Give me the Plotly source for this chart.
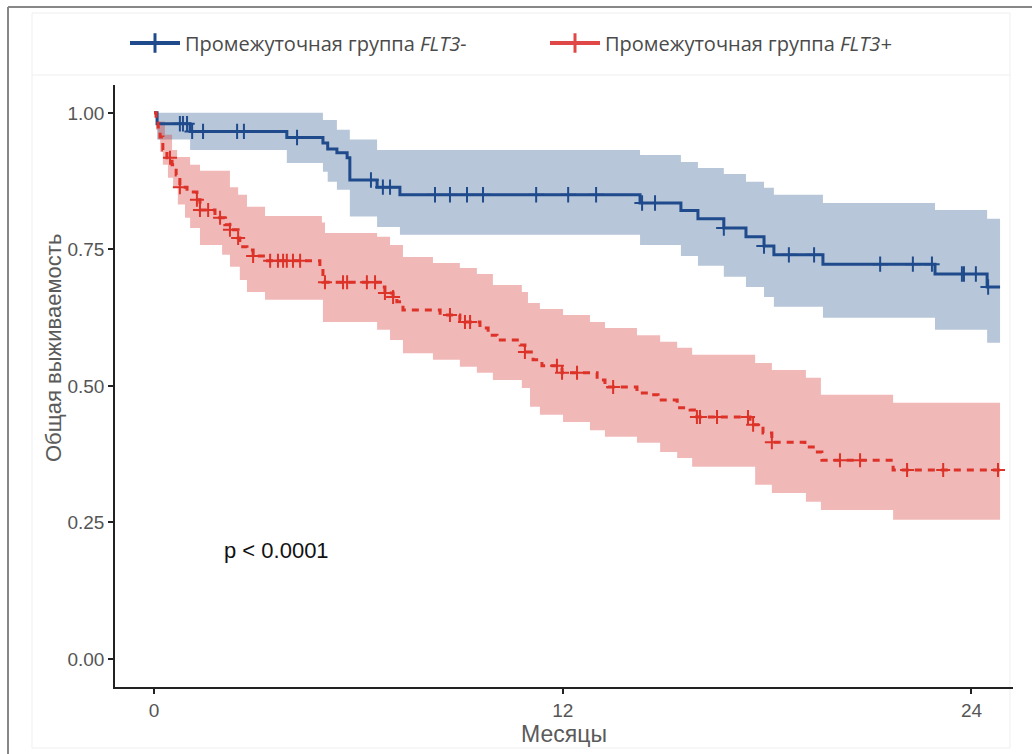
import plotly.graph_objects as go

# ---------------- data (months, survival probability) ----------------
END_TIME = 24.84

blue_name = "Промежуточная группа <i>FLT3-</i>"
red_name = "Промежуточная группа <i>FLT3+</i>"

blue_time = [0, 0.09, 1.06, 3.9, 4.96, 5.1, 5.37, 5.67, 5.75, 6.55, 7.22, 14.27, 15.47,
             15.97, 16.73, 17.38, 17.91, 18.2, 19.64, 22.93, 24.46]
blue_surv = [1.0, 0.980, 0.966, 0.955, 0.945, 0.934, 0.927, 0.918, 0.877, 0.864, 0.850, 0.835,
             0.821, 0.806, 0.789, 0.773, 0.756, 0.740, 0.723, 0.705, 0.681]
blue_censor = [0.76, 0.85, 0.97, 1.12, 1.44, 2.44, 2.64, 4.2, 6.37, 6.72, 6.93, 8.25, 8.69,
               9.19, 9.66, 11.22, 12.16, 12.98, 14.33, 14.71, 16.73, 17.91, 18.64, 19.38,
               21.32, 22.28, 22.84, 23.72, 23.78, 24.13, 24.49]
bu_time = [0, 4.96, 5.37, 5.75, 6.55, 14.27, 15.47, 15.97, 16.73, 17.38, 17.91, 18.2, 19.64,
           22.93, 24.46]
bu_val = [1.0, 0.987, 0.969, 0.951, 0.932, 0.923, 0.910, 0.899, 0.888, 0.874, 0.863, 0.850,
          0.835, 0.822, 0.806]
bl_time = [0, 0.09, 1.06, 3.9, 4.96, 5.1, 5.37, 5.75, 6.55, 7.22, 14.27, 15.47, 15.97, 16.73,
           17.38, 17.91, 18.2, 19.64, 22.93, 24.46]
bl_val = [1.0, 0.951, 0.932, 0.908, 0.892, 0.874, 0.859, 0.810, 0.791, 0.777, 0.758, 0.738,
          0.720, 0.700, 0.681, 0.663, 0.645, 0.625, 0.603, 0.579]

red_time = [0, 0.06, 0.12, 0.18, 0.26, 0.38, 0.53, 0.65, 0.76, 0.97, 1.26, 1.35, 1.79, 2.08,
            2.23, 2.47, 2.52, 2.73, 2.91, 3.26, 4.87, 4.96, 6.69, 6.78, 7.02, 7.13, 7.31, 8.40,
            8.98, 9.13, 9.57, 9.81, 10.07, 10.75, 10.89, 11.13, 11.39, 11.98, 13.01, 13.24,
            13.33, 14.18, 14.56, 14.8, 15.36, 15.74, 15.94, 17.5, 17.88, 18.14, 19.11, 19.41,
            19.61, 21.7]
red_surv = [1.0, 0.987, 0.974, 0.956, 0.932, 0.918, 0.905, 0.886, 0.864, 0.855, 0.841, 0.822,
            0.808, 0.795, 0.786, 0.771, 0.755, 0.749, 0.738, 0.729, 0.718, 0.690, 0.681, 0.670,
            0.663, 0.654, 0.639, 0.630, 0.621, 0.617, 0.606, 0.593, 0.584, 0.575, 0.562, 0.548,
            0.537, 0.524, 0.511, 0.502, 0.498, 0.487, 0.484, 0.474, 0.460, 0.456, 0.443, 0.429,
            0.414, 0.397, 0.388, 0.379, 0.364, 0.346]
red_censor = [0.47, 0.76, 1.26, 1.35, 1.59, 1.94, 2.23, 2.47, 2.91, 3.41, 3.64, 3.79, 3.9, 4.08,
              4.29, 5.02, 5.55, 5.67, 6.25, 6.49, 6.78, 7.02, 8.69, 9.13, 9.28, 10.89, 11.83,
              11.98, 12.42, 13.48, 15.94, 16.03, 16.53, 17.44, 17.59, 18.14, 20.14, 20.73,
              22.11, 23.17, 24.78]
ru_time = [0, 0.12, 0.32, 0.53, 0.68, 1.06, 1.35, 2.23, 2.47, 2.73, 3.26, 4.93, 5.02, 6.55,
           6.93, 7.31, 8.19, 8.98, 9.48, 9.95, 10.8, 10.98, 11.33, 12.01, 12.8, 13.24, 14.18,
           14.86, 15.36, 15.8, 17.65, 18.14, 19.14, 19.58, 21.7]
ru_val = [1.0, 0.984, 0.960, 0.932, 0.919, 0.905, 0.894, 0.864, 0.850, 0.828, 0.811, 0.799,
          0.780, 0.773, 0.758, 0.736, 0.725, 0.716, 0.705, 0.685, 0.672, 0.652, 0.641, 0.630,
          0.617, 0.606, 0.593, 0.581, 0.570, 0.557, 0.542, 0.529, 0.515, 0.484, 0.469]
rl_time = [0, 0.06, 0.12, 0.18, 0.26, 0.41, 0.56, 0.70, 0.91, 1.06, 1.35, 2.0, 2.23, 2.52,
           2.73, 3.26, 4.96, 6.55, 6.93, 7.31, 8.19, 8.98, 9.48, 9.95, 10.8, 11.04, 11.33,
           12.01, 12.8, 13.24, 14.18, 14.86, 15.36, 15.8, 17.65, 18.14, 19.14, 19.58, 21.7]
rl_val = [1.0, 0.969, 0.951, 0.929, 0.905, 0.881, 0.863, 0.832, 0.808, 0.789, 0.758, 0.740,
          0.718, 0.694, 0.672, 0.658, 0.617, 0.603, 0.584, 0.560, 0.548, 0.535, 0.524, 0.511,
          0.496, 0.462, 0.447, 0.434, 0.419, 0.407, 0.396, 0.379, 0.368, 0.352, 0.319, 0.304,
          0.288, 0.273, 0.255]

x_ticks = [0, 12, 24]
y_ticks = [0.0, 0.25, 0.5, 0.75, 1.0]
p_text = "p < 0.0001"
x_title = "Месяцы"
y_title = "Общая выживаемость"

# ---------------- styles ----------------
BLUE = "#1F4A8C"
RED = "#DC3228"
BLUE_FILL = "rgba(49,95,146,0.35)"
RED_FILL = "rgba(214,48,48,0.34)"


def extend(t, v):
    return list(t) + [END_TIME], list(v) + [v[-1]]


def step_at(t, v, x):
    val = v[0]
    for ti, vi in zip(t, v):
        if ti <= x:
            val = vi
    return val


fig = go.Figure()


def add_band(lt, lv, ut, uv, color):
    lt2, lv2 = extend(lt, lv)
    ut2, uv2 = extend(ut, uv)
    fig.add_trace(go.Scatter(x=lt2, y=lv2, mode="lines", line=dict(width=0, shape="hv"),
                             showlegend=False, hoverinfo="skip"))
    fig.add_trace(go.Scatter(x=ut2, y=uv2, mode="lines", line=dict(width=0, shape="hv"),
                             fill="tonexty", fillcolor=color, showlegend=False,
                             hoverinfo="skip"))


add_band(bl_time, bl_val, bu_time, bu_val, BLUE_FILL)
add_band(rl_time, rl_val, ru_time, ru_val, RED_FILL)

bt, bs = extend(blue_time, blue_surv)
rt, rs = extend(red_time, red_surv)
fig.add_trace(go.Scatter(x=bt, y=bs, mode="lines", line=dict(color=BLUE, width=3, shape="hv"),
                         showlegend=False))
fig.add_trace(go.Scatter(x=rt, y=rs, mode="lines",
                         line=dict(color=RED, width=3, shape="hv", dash="7px,6px"),
                         showlegend=False))

fig.add_trace(go.Scatter(x=blue_censor, y=[step_at(blue_time, blue_surv, c) for c in blue_censor],
                         mode="markers", showlegend=False,
                         marker=dict(symbol="cross-thin", size=11, color=BLUE,
                                     line=dict(width=2, color=BLUE))))
fig.add_trace(go.Scatter(x=red_censor, y=[step_at(red_time, red_surv, c) for c in red_censor],
                         mode="markers", showlegend=False,
                         marker=dict(symbol="cross-thin", size=10, color=RED,
                                     line=dict(width=2, color=RED))))

# legend entries
fig.add_trace(go.Scatter(x=[None], y=[None], mode="lines+markers", name=blue_name,
                         line=dict(color=BLUE, width=4),
                         marker=dict(symbol="cross-thin", size=14, color=BLUE,
                                     line=dict(width=3, color=BLUE))))
fig.add_trace(go.Scatter(x=[None], y=[None], mode="lines+markers", name=red_name,
                         line=dict(color="#E04848", width=4),
                         marker=dict(symbol="cross-thin", size=14, color="#E04848",
                                     line=dict(width=3, color="#E04848"))))

fig.add_annotation(x=2.0, y=0.198, xref="x", yref="y", text=p_text, showarrow=False,
                   xanchor="left", yanchor="middle",
                   font=dict(family="Liberation Sans, Arial", size=22, color="#111111"))

# frame decorations (paper coordinates relative to plot area)
L, R, T, B = 115, 1013, 85, 687
W, H = R - L, B - T


def px(xp):
    return (xp - L) / W


def py(yp):
    return (B - yp) / H


fig.add_annotation(x=px(53), y=py(348), xref="paper", yref="paper", text=y_title,
                   textangle=-90, showarrow=False, xanchor="center", yanchor="middle",
                   font=dict(family="Liberation Sans, Arial", size=22, color="#5a5a5a"))

fig.add_shape(type="rect", xref="paper", yref="paper", x0=px(32), x1=px(1010), y0=py(748),
              y1=py(13), line=dict(color="#efefef", width=1), layer="below")
fig.add_shape(type="line", xref="paper", yref="paper", x0=px(32), x1=px(1010), y0=py(75),
              y1=py(75), line=dict(color="#efefef", width=1), layer="below")
fig.add_shape(type="line", xref="paper", yref="paper", x0=px(8), x1=px(8), y0=py(760),
              y1=py(7), line=dict(color="#888888", width=2))
fig.add_shape(type="line", xref="paper", yref="paper", x0=px(8), x1=px(1040), y0=py(7),
              y1=py(7), line=dict(color="#888888", width=2))

fig.update_layout(
    width=1032, height=754,
    margin=dict(l=L, r=1032 - R, t=T, b=754 - B),
    paper_bgcolor="white", plot_bgcolor="white",
    showlegend=True,
    legend=dict(orientation="h", x=px(545), xanchor="center", y=py(43), yanchor="middle",
                traceorder="normal",
                font=dict(family="Open Sans", size=20, color="#4a4a4a"),
                bgcolor="rgba(0,0,0,0)", itemwidth=50, tracegroupgap=0,
                entrywidth=355, entrywidthmode="pixels"),
    xaxis=dict(range=[-1.145, 25.22], tickvals=x_ticks, ticktext=[str(v) for v in x_ticks],
               showgrid=False, zeroline=False, showline=True, linecolor="#222222",
               linewidth=1.5, ticks="outside", ticklen=5, tickwidth=1.5,
               tickcolor="#222222",
               tickfont=dict(family="Liberation Sans, Arial", size=19, color="#555555"),
               title=dict(text=x_title, standoff=6,
                          font=dict(family="Liberation Sans, Arial", size=23,
                                    color="#5a5a5a"))),
    yaxis=dict(range=[-0.0513, 1.051], tickvals=y_ticks,
               ticktext=[f"{v:.2f}" for v in y_ticks],
               showgrid=False, zeroline=False, showline=True, linecolor="#222222",
               linewidth=1.5, ticks="outside", ticklen=5, tickwidth=1.5,
               tickcolor="#222222",
               tickfont=dict(family="Liberation Sans, Arial", size=19, color="#555555")),
)

fig.write_html("out.html")
